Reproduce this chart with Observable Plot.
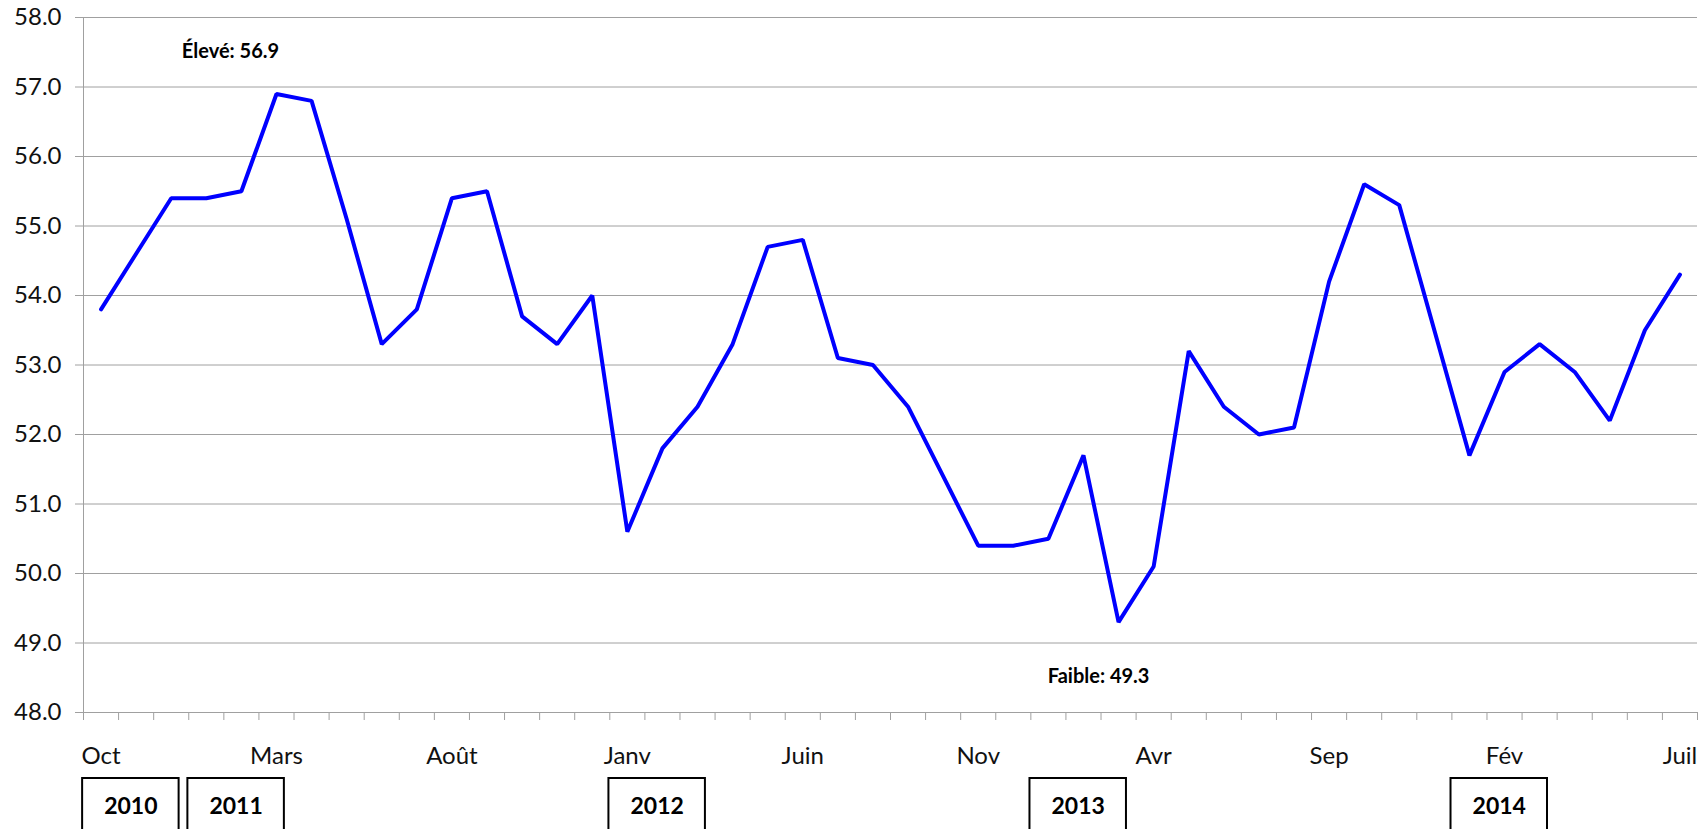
<!DOCTYPE html>
<html>
<head>
<meta charset="utf-8">
<script src="https://cdn.jsdelivr.net/npm/d3@7"></script>
<script src="https://cdn.jsdelivr.net/npm/@observablehq/plot@0.6"></script>
<style>
  html, body { margin: 0; padding: 0; background: #fff; }
  #chart svg { display: block; }
</style>
</head>
<body>
<div id="chart"></div>
<script>
// ---- Data ----
const months = [
  "Oct","Nov","Déc",
  "Janv","Fév","Mars","Avr","Mai","Juin","Juil","Août","Sep","Oct","Nov","Déc",
  "Janv","Fév","Mars","Avr","Mai","Juin","Juil","Août","Sep","Oct","Nov","Déc",
  "Janv","Fév","Mars","Avr","Mai","Juin","Juil","Août","Sep","Oct","Nov","Déc",
  "Janv","Fév","Mars","Avr","Mai","Juin","Juil"
];
const years = [
  2010,2010,2010,
  2011,2011,2011,2011,2011,2011,2011,2011,2011,2011,2011,2011,
  2012,2012,2012,2012,2012,2012,2012,2012,2012,2012,2012,2012,
  2013,2013,2013,2013,2013,2013,2013,2013,2013,2013,2013,2013,
  2014,2014,2014,2014,2014,2014,2014
];
const values = [
  53.8, 54.6, 55.4,
  55.4, 55.5, 56.9, 56.8, 55.1, 53.3, 53.8, 55.4, 55.5, 53.7, 53.3, 54.0,
  50.6, 51.8, 52.4, 53.3, 54.7, 54.8, 53.1, 53.0, 52.4, 51.4, 50.4, 50.4,
  50.5, 51.7, 49.3, 50.1, 53.2, 52.4, 52.0, 52.1, 54.2, 55.6, 55.3, 53.5,
  51.7, 52.9, 53.3, 52.9, 52.2, 53.5, 54.3
];
const yTicks = [48, 49, 50, 51, 52, 53, 54, 55, 56, 57, 58];
const labelEvery = 5;
const highLabel = "Élevé";
const lowLabel = "Faible";

// ---- Derived tables ----
const data = values.map((v, i) => ({i, v, month: months[i], year: years[i]}));
const labeled = data.filter(d => d.i % labelEvery === 0);
const boundaries = d3.range(0, months.length + 1).map(k => k - 0.5);
const yearList = Array.from(new Set(years));
const yearBoxes = yearList.map(y => {
  const first = years.indexOf(y);
  return {year: String(y), c: first + 0.85};
});
const iMax = d3.maxIndex(values);
const iMin = d3.minIndex(values);
const highData = [{i: iMax, v: values[iMax], t: `${highLabel}: ${values[iMax].toFixed(1)}`}];
const lowData = [{i: iMin, v: values[iMin], t: `${lowLabel}: ${values[iMin].toFixed(1)}`}];

const grey = "#a0a0a0";

const chart = Plot.plot({
  width: 1698,
  height: 829,
  marginLeft: 83,
  marginRight: 1,
  marginTop: 17,
  marginBottom: 117,
  style: {fontFamily: "Lato, 'Open Sans', sans-serif", background: "#fff", color: "#000"},
  x: {type: "linear", domain: [-0.5, months.length - 0.5], axis: null},
  y: {domain: [48, 58], axis: null},
  marks: [
    Plot.gridY(yTicks, {stroke: grey, strokeOpacity: 1, strokeWidth: 1}),
    Plot.ruleX([-0.5], {stroke: grey, strokeWidth: 1}),
    Plot.ruleY([48], {stroke: grey, strokeWidth: 1}),
    Plot.axisY(yTicks, {
      tickSize: 8, tickPadding: 14, stroke: grey, fill: "#111", label: null,
      tickFormat: d => d.toFixed(1), fontSize: 24
    }),
    Plot.axisX(boundaries, {
      tickSize: 8, stroke: grey, tickFormat: () => "", label: null
    }),
    Plot.text(labeled, {
      x: "i", y: () => 48, text: "month", dy: 44,
      fontSize: 24, fill: "#111", lineAnchor: "middle"
    }),
    Plot.rect(yearBoxes, {
      x1: d => d.c - 1.375, x2: d => d.c + 1.375,
      y1: () => 48, y2: () => 46, insetTop: 66,
      fill: "none", stroke: "#000", strokeWidth: 2
    }),
    Plot.text(yearBoxes, {
      x: "c", y: () => 48, text: "year", dy: 94,
      fontSize: 23, fontWeight: "bold", fill: "#000", lineAnchor: "middle"
    }),
    Plot.line(data, {
      x: "i", y: "v", stroke: "#0000ff", strokeWidth: 4,
      strokeLinejoin: "miter", strokeLinecap: "round"
    }),
    Plot.text(highData, {
      x: "i", y: "v", text: "t", dx: -46, dy: -42,
      fontSize: 20, fontWeight: "bold", fill: "#000", lineAnchor: "middle"
    }),
    Plot.text(lowData, {
      x: "i", y: "v", text: "t", dx: -20, dy: 54,
      fontSize: 20, fontWeight: "bold", fill: "#000", lineAnchor: "middle"
    })
  ]
});

document.getElementById("chart").appendChild(chart);
</script>
</body>
</html>
